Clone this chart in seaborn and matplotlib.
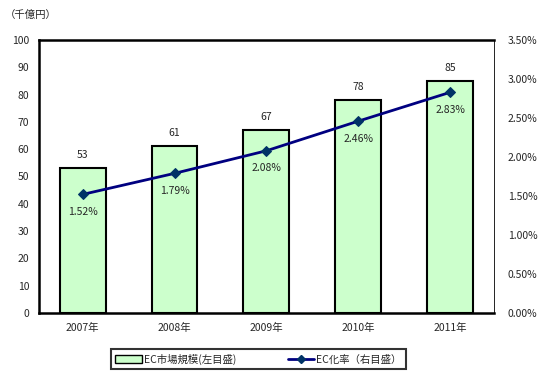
import numpy as np
import pandas as pd
import matplotlib.pyplot as plt
import seaborn as sns
from matplotlib.ticker import FuncFormatter
from matplotlib.patches import Patch
from matplotlib.lines import Line2D

# data
years = ['2007年', '2008年', '2009年', '2010年', '2011年']
market = [53, 61, 67, 78, 85]
ec_rate = [1.52, 1.79, 2.08, 2.46, 2.83]

df = pd.DataFrame({'year': years, 'market': market, 'rate': ec_rate})

sns.set_style('white')
plt.rcParams['font.family'] = ['Noto Sans CJK JP', 'DejaVu Sans']
plt.rcParams['font.size'] = 7.5

fig = plt.figure(figsize=(5.42, 3.82), dpi=100)
ax = fig.add_axes([0.072, 0.181, 0.839, 0.714])

sns.barplot(data=df, x='year', y='market', ax=ax, color='#CCFFCC',
            edgecolor='black', linewidth=1.5, width=0.5, saturation=1)
ax.set_ylim(0, 100)
ax.set_yticks(range(0, 101, 10))
ax.set_xlabel('')
ax.set_ylabel('')
ax.tick_params(axis='both', length=0, labelsize=7.5, pad=7)
for c in ax.containers:
    ax.bar_label(c, padding=6, fontsize=7.5)

for side in ['left', 'bottom', 'top']:
    ax.spines[side].set_linewidth(1.8)
    ax.spines[side].set_color('black')
ax.spines['right'].set_linewidth(0.6)
ax.spines['right'].set_color('black')

ax2 = ax.twinx()
sns.lineplot(x=np.arange(len(years)), y=df['rate'], ax=ax2, color='#000080',
             linewidth=2, marker='D', markersize=5, markerfacecolor='#003366',
             markeredgecolor='#003366')
ax2.set_ylim(0, 3.5)
ax2.set_yticks(np.arange(0, 3.51, 0.5))
ax2.yaxis.set_major_formatter(FuncFormatter(lambda v, p: f'{v:.2f}%'))
ax2.set_ylabel('')
ax2.tick_params(axis='y', length=0, labelsize=7.5, pad=10)
for i, r in enumerate(ec_rate):
    ax2.annotate(f'{r:.2f}%', (i, r), xytext=(0, -9), textcoords='offset points',
                 ha='center', va='top', fontsize=7.5)
for s in ax2.spines.values():
    s.set_visible(False)

fig.text(0.008, 0.975, '（千億円）', fontsize=7.5, va='top')

handles = [Patch(facecolor='#CCFFCC', edgecolor='black', linewidth=1),
           Line2D([0], [0], color='#000080', linewidth=2, marker='D',
                  markersize=4, markerfacecolor='#003366', markeredgecolor='#003366')]
leg = fig.legend(handles, ['EC市場規模(左目盛)', 'EC化率（右目盛）'], ncol=2,
                 loc='center', bbox_to_anchor=(0.477, 0.06), frameon=True,
                 fancybox=False, edgecolor='black', fontsize=7.5,
                 handlelength=2.5, handletextpad=0.2, columnspacing=5,
                 borderpad=0.45, borderaxespad=0)
leg.get_frame().set_linewidth(1.5)

fig.savefig('out.png', dpi=100)
